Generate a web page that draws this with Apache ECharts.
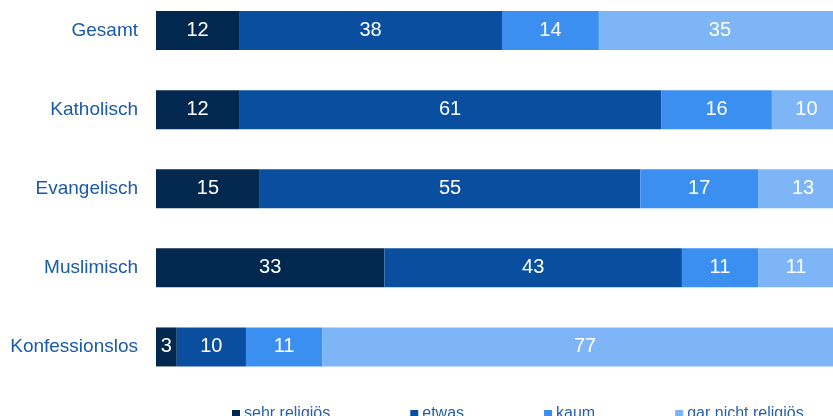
<!DOCTYPE html>
<html>
<head>
<meta charset="utf-8">
<script src="https://cdn.jsdelivr.net/npm/echarts@6/dist/echarts.min.js"></script>
<style>html,body{margin:0;padding:0;background:#fff}#c{width:833px;height:416px}</style>
</head>
<body>
<div id="c"></div>
<script>
const categories = ["Gesamt", "Katholisch", "Evangelisch", "Muslimisch", "Konfessionslos"];
const seriesNames = ["sehr religiös", "etwas", "kaum", "gar nicht religiös"];
const sehrReligioes = [12, 12, 15, 33, 3];
const etwas = [38, 61, 55, 43, 10];
const kaum = [14, 16, 17, 11, 11];
const garNichtReligioes = [35, 10, 13, 11, 77];
const colors = ["#03284f", "#0a4f9f", "#3b8ff0", "#7eb5f6"];

const dataSets = [sehrReligioes, etwas, kaum, garNichtReligioes];
const chart = echarts.init(document.getElementById('c'));
chart.setOption({
  animation: false,
  grid: { left: 156, width: 692, top: -9, height: 395.5, outerBoundsMode: 'none', containLabel: false },
  xAxis: { type: 'value', min: 0, max: 100, show: false },
  yAxis: {
    type: 'category', data: categories, inverse: true,
    axisLine: { show: false }, axisTick: { show: false },
    axisLabel: { color: '#1a5aab', fontSize: 19, fontFamily: 'Liberation Sans, Arial', margin: 18 }
  },
  legend: {
    left: 227, top: 401, itemWidth: 8, itemHeight: 8, itemGap: 80,
    icon: 'rect',
    textStyle: { color: '#2a5fa8', fontSize: 16, fontFamily: 'Liberation Sans, Arial', padding: [0, 0, 0, -1] },
    data: seriesNames
  },
  series: dataSets.map((d, i) => ({
    name: seriesNames[i], type: 'bar', stack: 'total', data: d,
    barWidth: 39,
    itemStyle: { color: colors[i] },
    label: { show: true, position: 'inside', color: '#fff', fontSize: 20, fontFamily: 'Liberation Sans, Arial' }
  }))
});
</script>
</body>
</html>
